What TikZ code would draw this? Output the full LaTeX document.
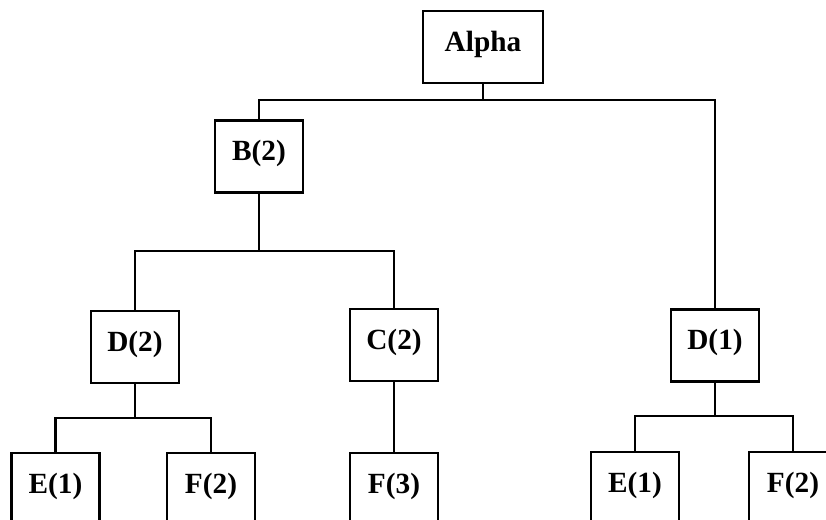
\documentclass[tikz,border=0pt]{standalone}
\usepackage{fontspec}
\setmainfont{Liberation Serif}
\usepackage{tikz}
\usetikzlibrary{positioning}

\begin{document}
\begin{tikzpicture}[x=0.03cm,y=-0.03cm]
  \tikzset{
    box/.style={draw=black, line width=1.8pt, minimum width=2.64cm, inner sep=0pt, text height=1.2cm, text depth=0.96cm, font=\fontsize{25}{29}\selectfont\bfseries},
    link/.style={black, line width=1.8pt}
  }

  % frame of the picture (bottom row runs off the page)
  \clip (0,0) rectangle (826,519);

  % Bus heights
  \def\yA{100}
  \def\yB{251}
  \def\yD{418}
  \def\yR{416}

  % Levels
  \node[box, minimum width=3.6cm] (alpha) at (483,47) {Alpha};
  \node[box] (b2) at (259,156.5) {B(2)};
  \node[box] (d2) at (135,347) {D(2)};
  \node[box] (c2) at (394,345) {C(2)};
  \node[box] (d1) at (715,345.5) {D(1)};
  \node[box] (e1a) at (55.5,489) {E(1)};
  \node[box] (f2a) at (211,489) {F(2)};
  \node[box] (f3) at (394,489) {F(3)};
  \node[box] (e1b) at (635,488) {E(1)};
  \node[box] (f2b) at (793,488) {F(2)};

  % Connectors
  \coordinate (busA) at (alpha.south |- 0,\yA);
  \draw[link] (alpha.south) -- (busA);
  \draw[link] (b2.north) |- (busA) -| (d1.north);

  \coordinate (busB) at (b2.south |- 0,\yB);
  \draw[link] (b2.south) -- (busB);
  \draw[link] (d2.north) |- (busB) -| (c2.north);

  \coordinate (busD) at (d2.south |- 0,\yD);
  \draw[link] (d2.south) -- (busD);
  \draw[link] (e1a.north) |- (busD) -| (f2a.north);

  \draw[link] (c2.south) -- (f3.north);

  \coordinate (busR) at (d1.south |- 0,\yR);
  \draw[link] (d1.south) -- (busR);
  \draw[link] (e1b.north) |- (busR) -| (f2b.north);

\end{tikzpicture}
\end{document}
